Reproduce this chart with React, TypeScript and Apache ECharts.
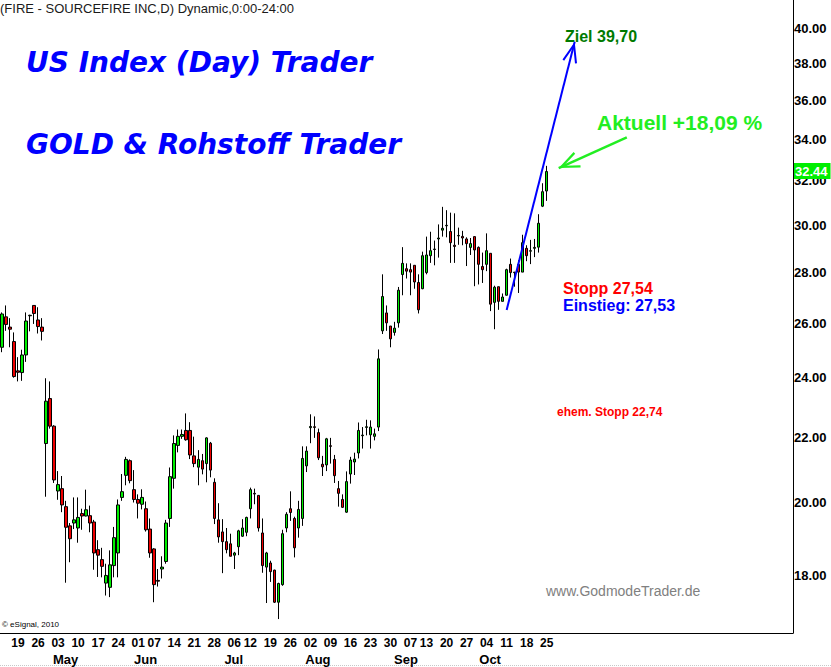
import React, { useEffect, useRef } from 'react';
import * as echarts from 'echarts';

// ---------- data ----------
const START_DAY = '2010-04-13';
const HOLIDAYS = ['2010-05-31', '2010-07-05', '2010-09-06', '2010-11-25', '2010-12-24', '2011-01-17'];
const TOTAL_SLOTS = 198; // trading days incl. empty future space on the right

const openP = [
  25.10, 26.24, 25.85, 25.31, 24.25, 24.19, 24.82, 26.28, 26.68, 26.12,
  25.85, 21.81, 23.29, 22.37, 20.35, 20.42, 19.89, 19.34, 19.42, 19.28,
  19.69, 19.62, 19.63, 19.45, 18.68, 18.41, 17.79, 17.68, 18.25, 18.59,
  20.16, 20.82, 21.27, 20.39, 20.10, 19.96, 19.83, 19.25, 18.70, 17.86,
  18.16, 18.36, 19.55, 20.73, 21.75, 22.04, 22.23, 22.23, 21.42, 21.07,
  21.27, 21.18, 21.82, 20.61, 19.51, 19.17, 18.90, 18.84, 18.53, 18.76,
  19.05, 19.16, 19.83, 20.28, 20.22, 19.14, 18.21, 18.32, 18.13, 17.30,
  17.75, 19.28, 19.83, 19.55, 19.28, 19.55, 21.11, 22.32, 22.35, 22.16,
  21.16, 21.14, 21.74, 21.31, 20.42, 20.10, 19.73, 20.86, 21.23, 21.51,
  22.06, 22.33, 22.09, 22.04, 22.34, 25.71, 26.39, 25.89, 25.65, 26.01,
  27.91, 28.15, 28.11, 28.29, 27.59, 27.34, 27.99, 28.69, 28.95, 29.40,
  29.78, 29.97, 29.72, 29.13, 29.53, 29.51, 29.40, 29.04, 29.50, 29.04,
  28.24, 28.33, 28.79, 26.80, 27.42, 26.84, 27.08, 28.33, 28.01, 28.33,
  28.01, 29.00, 28.88, 29.00, 29.05, 30.84, 31.53,
];
const closeP = [
  26.35, 25.95, 25.77, 24.05, 24.20, 24.82, 26.08, 26.30, 26.37, 25.87,
  25.69, 23.20, 22.37, 20.68, 20.54, 19.94, 19.30, 18.98, 19.51, 19.58,
  19.62, 19.80, 19.42, 18.59, 18.53, 18.23, 17.99, 18.27, 19.01, 19.94,
  20.33, 21.31, 20.66, 20.10, 19.99, 20.16, 19.23, 18.59, 17.75, 17.84,
  18.21, 19.42, 20.78, 21.81, 22.04, 22.10, 21.93, 21.45, 21.18, 21.31,
  21.01, 21.99, 20.98, 19.55, 19.03, 18.90, 18.68, 18.50, 18.59, 19.20,
  19.28, 19.58, 20.39, 20.26, 19.28, 18.25, 18.59, 18.09, 17.30, 17.78,
  19.12, 19.67, 19.72, 18.73, 19.81, 21.34, 21.57, 22.36, 22.33, 21.36,
  21.08, 21.96, 21.72, 20.81, 20.28, 19.87, 20.63, 21.29, 21.32, 22.23,
  22.08, 22.35, 22.34, 22.12, 24.68, 27.03, 26.01, 25.41, 25.81, 27.28,
  28.37, 28.05, 28.01, 27.61, 26.51, 28.69, 28.72, 28.90, 28.97, 29.44,
  29.86, 29.99, 29.24, 29.08, 29.55, 29.44, 29.20, 29.20, 28.93, 28.33,
  28.11, 28.90, 26.73, 27.40, 26.84, 27.01, 28.11, 27.99, 27.99, 28.01,
  29.24, 28.69, 28.90, 29.04, 30.08, 31.50, 32.44,
];
const lowP = [
  24.92, 25.71, 25.10, 24.01, 23.88, 23.90, 24.57, 25.69, 25.97, 25.61,
  25.35, 20.18, 22.29, 20.59, 20.09, 19.73, 17.80, 18.34, 19.25, 18.87,
  19.23, 19.61, 19.16, 18.14, 17.95, 17.94, 17.47, 17.43, 17.94, 17.94,
  20.06, 20.52, 20.58, 20.01, 19.55, 19.81, 19.18, 18.46, 17.30, 17.70,
  17.91, 18.30, 19.31, 20.42, 21.53, 21.96, 21.90, 21.32, 21.07, 20.52,
  20.85, 20.61, 20.76, 19.39, 18.87, 18.05, 18.58, 18.50, 18.16, 18.53,
  19.03, 19.05, 19.55, 19.96, 19.18, 18.06, 17.28, 17.82, 17.28, 16.88,
  17.72, 19.16, 19.48, 18.47, 19.01, 19.34, 20.92, 21.82, 21.99, 21.29,
  20.80, 20.95, 21.18, 20.59, 19.89, 19.85, 19.71, 20.57, 20.83, 21.34,
  21.65, 22.07, 21.65, 21.91, 22.21, 25.59, 25.71, 25.10, 25.53, 25.83,
  27.08, 27.75, 27.08, 27.34, 26.37, 27.32, 27.92, 28.39, 28.29, 28.61,
  29.50, 29.47, 28.39, 28.39, 29.15, 29.13, 28.26, 28.72, 27.44, 27.51,
  27.57, 28.05, 26.46, 25.77, 26.51, 26.84, 27.07, 27.79, 27.42, 27.17,
  28.01, 28.46, 28.34, 28.63, 28.82, 30.80, 31.08,
];
const highP = [
  26.41, 26.68, 26.19, 25.65, 24.74, 25.01, 26.41, 26.32, 26.68, 26.61,
  26.19, 23.99, 23.88, 22.40, 20.95, 20.80, 20.06, 19.42, 20.16, 20.16,
  19.83, 20.39, 19.92, 19.51, 18.94, 18.73, 18.30, 18.66, 19.31, 20.10,
  20.86, 21.39, 21.31, 20.98, 20.25, 20.40, 20.04, 19.55, 18.72, 18.16,
  18.50, 19.51, 21.06, 22.07, 22.26, 22.26, 22.79, 22.50, 22.03, 21.60,
  21.48, 22.01, 21.86, 20.73, 19.99, 19.53, 19.28, 19.12, 18.62, 19.23,
  19.53, 19.60, 20.45, 20.42, 20.23, 19.55, 18.62, 18.38, 18.14, 17.80,
  19.23, 19.73, 20.34, 19.60, 20.06, 21.72, 21.72, 22.76, 22.69, 22.29,
  21.42, 21.99, 21.99, 21.45, 20.65, 20.25, 20.94, 21.39, 21.52, 22.49,
  22.34, 22.58, 22.56, 22.29, 25.02, 27.92, 26.68, 25.89, 26.05, 27.41,
  29.05, 28.37, 28.37, 28.29, 27.92, 28.86, 29.50, 29.71, 29.33, 30.03,
  30.81, 30.66, 30.55, 30.52, 29.89, 29.75, 29.47, 29.44, 29.50, 29.08,
  28.82, 29.64, 28.79, 27.46, 27.42, 27.15, 28.15, 28.57, 28.01, 28.50,
  29.58, 29.13, 29.36, 29.40, 30.48, 31.89, 32.71,
];

const yTicks = [18, 20, 22, 24, 26, 28, 30, 32, 34, 36, 38, 40];
const Y_MIN = 16.54;
const Y_MAX = 41.67;
const LAST_PRICE = 32.44;
const MONTHS = ['Jan', 'Feb', 'Mar', 'Apr', 'May', 'Jun', 'Jul', 'Aug', 'Sep', 'Oct', 'Nov', 'Dec'];

// trend arrow (blue) and pointer arrow (green), [slot index, price]; second point = arrow tip
const targetArrow = [[126, 26.5], [143, 39.2]];
const pointerArrow = [[156, 34.1], [139, 32.6]];

// ---------- helpers ----------
function buildTradingDays(start: string, n: number, holidays: string[]) {
  const out: string[] = [];
  const d = new Date(start + 'T00:00:00Z');
  while (out.length < n) {
    const wd = d.getUTCDay();
    const s = d.toISOString().slice(0, 10);
    if (wd !== 0 && wd !== 6 && holidays.indexOf(s) < 0) out.push(s);
    d.setUTCDate(d.getUTCDate() + 1);
  }
  return out;
}
const wday = (s: string) => new Date(s + 'T00:00:00Z').getUTCDay();

const FONT = '"Liberation Sans", Arial, sans-serif';
// open "V" arrow head whose tip sits at the centre of its 15x42 box (tiny dot at the top keeps the box)
const V_ARROW =
  'path://M7.5,0 L7.55,0 L7.5,0.05 Z M0,41 L7.5,21 L15,41 L13.1,41.8 L7.5,26.5 L1.9,41.8 Z';

export default function App() {
  const ref = useRef<HTMLDivElement>(null);
  useEffect(() => {
    if (!ref.current) return;
    const chart = echarts.init(ref.current, undefined, { renderer: 'svg' });
    const cats = buildTradingDays(START_DAY, TOTAL_SLOTS, HOLIDAYS);
    const n = openP.length;
    const isWeekStart = (i: number) => i > 0 && i < n && wday(cats[i]) < wday(cats[i - 1]);
    const isMonthStart = (i: number) => i > 0 && i < n && cats[i].slice(5, 7) !== cats[i - 1].slice(5, 7);
    const L = Math.log;
    const candles = openP.map((o, i) => [L(o), L(closeP[i]), L(lowP[i]), L(highP[i])]);

    const option: any = {
      animation: false,
      backgroundColor: '#ffffff',
      grid: { left: 0, right: 38, top: 0, bottom: 34, containLabel: false },
      xAxis: [
        {
          type: 'category',
          data: cats,
          boundaryGap: true,
          axisLine: { show: true, lineStyle: { color: '#000', width: 1 } },
          axisTick: { show: false },
          splitLine: { show: false },
          axisLabel: {
            interval: (i: number) => isWeekStart(i),
            formatter: (v: string) => v.slice(8, 10),
            color: '#000',
            fontFamily: FONT,
            fontWeight: 'bold',
            fontSize: 12,
            margin: 4,
            hideOverlap: false,
          },
        },
        {
          type: 'category',
          data: cats,
          boundaryGap: true,
          position: 'bottom',
          offset: 15,
          axisLine: { show: false },
          axisTick: { show: false },
          splitLine: { show: false },
          axisLabel: {
            interval: (i: number) => isMonthStart(i),
            formatter: (v: string) => MONTHS[parseInt(v.slice(5, 7), 10) - 1],
            color: '#000',
            fontFamily: FONT,
            fontWeight: 'bold',
            fontSize: 13,
            margin: 5,
            padding: [0, 0, 0, 15],
            hideOverlap: false,
          },
        },
      ],
      yAxis: {
        type: 'value',
        position: 'right',
        min: L(Y_MIN),
        max: L(Y_MAX),
        axisLine: { show: true, lineStyle: { color: '#000', width: 1 } },
        axisTick: { show: false },
        splitLine: { show: false },
        axisLabel: {
          customValues: yTicks.map((t) => L(t)),
          formatter: (v: number) => Math.exp(v).toFixed(2),
          color: '#000',
          fontFamily: FONT,
          fontWeight: 'bold',
          fontSize: 13,
          margin: 1,
        },
      },
      series: [
        {
          type: 'candlestick',
          xAxisIndex: 0,
          data: candles,
          barWidth: 3,
          itemStyle: {
            color: '#00ee00',
            color0: '#ee0000',
            borderColor: '#000',
            borderColor0: '#000',
            borderColorDoji: '#000',
            borderWidth: 1,
          },
          markLine: {
            silent: true,
            animation: false,
            symbol: 'none',
            data: [
              {
                yAxis: L(LAST_PRICE),
                lineStyle: { color: 'rgba(0,0,0,0)', width: 0 },
                label: {
                  show: true,
                  position: 'end',
                  distance: 1,
                  formatter: LAST_PRICE.toFixed(2),
                  color: '#ffffff',
                  backgroundColor: '#00ee00',
                  fontFamily: FONT,
                  fontWeight: 'bold',
                  fontSize: 13,
                  padding: [2, 3, 1, 1],
                  opacity: 1,
                },
              },
              [
                {
                  coord: [targetArrow[0][0], L(targetArrow[0][1])],
                  symbol: 'none',
                  lineStyle: { color: '#0000ff', width: 2, type: 'solid' },
                  label: { show: false },
                },
                {
                  coord: [targetArrow[1][0], L(targetArrow[1][1])],
                  symbol: V_ARROW,
                  symbolSize: [15, 42],
                  lineStyle: { color: '#0000ff', width: 2, type: 'solid' },
                  label: { show: false },
                },
              ],
              [
                {
                  coord: [pointerArrow[0][0], L(pointerArrow[0][1])],
                  symbol: 'none',
                  lineStyle: { color: '#22ee22', width: 2.5, type: 'solid' },
                  label: { show: false },
                },
                {
                  coord: [pointerArrow[1][0], L(pointerArrow[1][1])],
                  symbol: V_ARROW,
                  symbolSize: [17, 42],
                  lineStyle: { color: '#22ee22', width: 2.5, type: 'solid' },
                  label: { show: false },
                },
              ],
            ],
          },
        },
      ],
      graphic: [
        {
          type: 'text', left: 0, top: 2,
          style: { text: '(FIRE - SOURCEFIRE INC,D) Dynamic,0:00-24:00', fill: '#1a1a1a', fontFamily: FONT, fontSize: 13 },
        },
        {
          type: 'text', left: 26, top: 48,
          style: { text: 'US Index (Day) Trader', fill: '#0000ff', fontFamily: '"DejaVu Sans", Verdana, sans-serif', fontWeight: 'bold', fontStyle: 'italic', fontSize: 28 },
        },
        {
          type: 'text', left: 26, top: 130,
          style: { text: 'GOLD & Rohstoff Trader', fill: '#0000ff', fontFamily: '"DejaVu Sans", Verdana, sans-serif', fontWeight: 'bold', fontStyle: 'italic', fontSize: 28 },
        },
        {
          type: 'text', left: 565, top: 28,
          style: { text: 'Ziel 39,70', fill: '#007a00', fontFamily: FONT, fontWeight: 'bold', fontSize: 16 },
        },
        {
          type: 'text', left: 597, top: 112,
          style: { text: 'Aktuell +18,09 %', fill: '#22ee22', fontFamily: FONT, fontWeight: 'bold', fontSize: 21 },
        },
        {
          type: 'text', left: 563, top: 280,
          style: { text: 'Stopp 27,54', fill: '#ff0000', fontFamily: FONT, fontWeight: 'bold', fontSize: 16 },
        },
        {
          type: 'text', left: 563, top: 297,
          style: { text: 'Einstieg: 27,53', fill: '#0000ff', fontFamily: FONT, fontWeight: 'bold', fontSize: 16 },
        },
        {
          type: 'text', left: 557, top: 406,
          style: { text: 'ehem. Stopp 22,74', fill: '#ff0000', fontFamily: FONT, fontWeight: 'bold', fontSize: 12 },
        },
        {
          type: 'text', left: 546, top: 584,
          style: { text: 'www.GodmodeTrader.de', fill: '#808080', fontFamily: FONT, fontSize: 14 },
        },
        {
          type: 'text', left: 2, top: 620,
          style: { text: '© eSignal, 2010', fill: '#000', fontFamily: FONT, fontSize: 8 },
        },
        {
          type: 'line',
          shape: { x1: 0, y1: 665.5, x2: 831, y2: 665.5 },
          style: { stroke: '#c8c8c8', lineWidth: 1, lineDash: [1, 1] },
        },
      ],
    };
    chart.setOption(option);
    return () => chart.dispose();
  }, []);
  return (
    <div
      ref={ref}
      style={{ position: 'absolute', left: 0, top: 0, width: 831, height: 667, background: '#fff' }}
    />
  );
}
